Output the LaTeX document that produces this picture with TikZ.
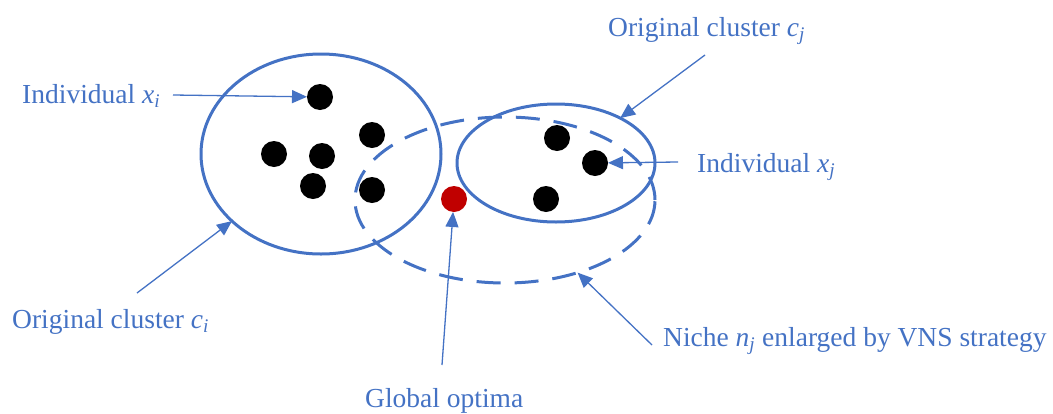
\documentclass[tikz,border=0pt]{standalone}
\usepackage{fontspec}
\setmainfont{Liberation Serif}
\usetikzlibrary{shapes.geometric,arrows.meta}
\definecolor{obl}{RGB}{68,114,196}
\definecolor{ored}{RGB}{192,0,0}
\tikzset{
  lbl/.style={text=obl, anchor=base west, inner sep=0pt, font=\fontsize{27.5}{33}\selectfont},
  dot/.style={circle, fill=black, minimum size=26pt, inner sep=0pt, outer sep=0pt},
  reddot/.style={circle, fill=ored, minimum size=26pt, inner sep=0pt, outer sep=0pt},
  clus/.style={ellipse, draw=obl, line width=3pt, inner sep=0pt, outer sep=0pt},
  niche/.style={ellipse, draw=obl, line width=3pt, inner sep=0pt, outer sep=0pt, dash pattern=on 24pt off 14pt},
  arr/.style={draw=obl, line width=1.3pt, -{Triangle[length=15pt,width=13pt]}, shorten >=0pt}
}
\newcommand{\sub}[1]{\textsubscript{\itshape #1}}
\begin{document}
\begin{tikzpicture}[x=1pt,y=-1pt]
\useasboundingbox (0,0) rectangle (1053,413);
% ellipses
\node[niche, minimum width=300pt, minimum height=166pt] (nj) at (505,200) {};
\node[clus, minimum width=240pt, minimum height=200pt] (ci) at (321,154) {};
\node[clus, minimum width=198pt, minimum height=118pt] (cj) at (556,163) {};
% dots of cluster c_i
\node[dot] (a1) at (320,97) {};
\node[dot] (a2) at (274,154) {};
\node[dot] (a3) at (322,156) {};
\node[dot] (a4) at (372,135) {};
\node[dot] (a5) at (313,186) {};
\node[dot] (a6) at (372,190) {};
% dots of cluster c_j
\node[dot] (b1) at (557,138) {};
\node[dot] (b2) at (595,163) {};
\node[dot] (b3) at (546,199) {};
% global optimum
\node[reddot] (go) at (454,199) {};
% labels
\node[lbl] (lxi) at (22,103) {Individual {\itshape x}\sub{i}};
\node[lbl] (lcj) at (608,36) {Original cluster {\itshape c}\sub{j}};
\node[lbl] (lxj) at (697,172) {Individual {\itshape x}\sub{j}};
\node[lbl] (lci) at (12,328) {Original cluster {\itshape c}\sub{i}};
\node[lbl] (lgo) at (365,407) {Global optima};
\node[lbl] (lnj) at (663,346) {Niche {\itshape n}\sub{j} enlarged by VNS strategy};
% arrow start points
\coordinate (sxi) at (173,95);
\coordinate (scj) at (705,55);
\coordinate (sxj) at (678,162);
\coordinate (sci) at (137,293);
\coordinate (sgo) at (442,365);
\coordinate (snj) at (652,345);
% arrows
\draw[arr] (sxi) -- (a1);
\draw[arr] (scj) -- (cj.35.6);
\draw[arr] (sxj) -- (b2);
\draw[arr] (sci) -- (ci.217.4);
\draw[arr] (sgo) -- (go);
\draw[arr] (snj) -- (nj.315.8);
\end{tikzpicture}
\end{document}
